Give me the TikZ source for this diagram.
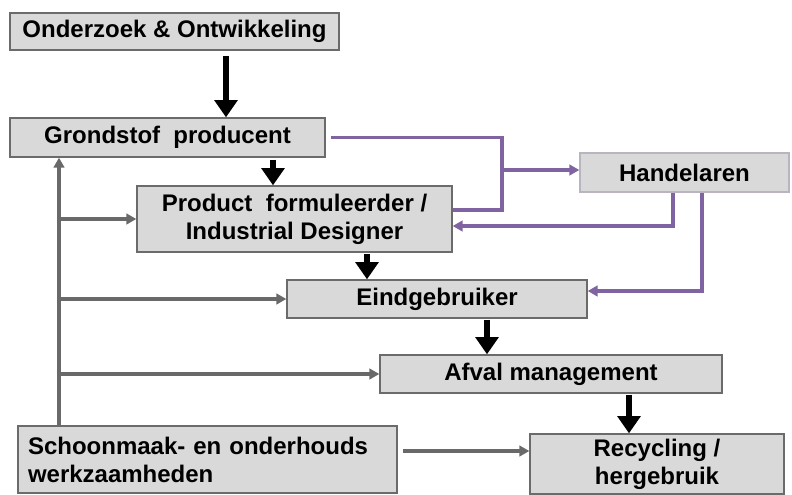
\documentclass[tikz,border=0pt]{standalone}
\usepackage{fontspec}
\setmainfont{Liberation Sans}
\usepackage{tikz}
\usetikzlibrary{arrows.meta,positioning,calc}

\definecolor{boxgray}{HTML}{D9D9D9}
\definecolor{linegray}{HTML}{696969}
\definecolor{tradepurple}{HTML}{8064A2}

\begin{document}
\begin{tikzpicture}[x=0.75pt, y=-0.75pt,
    actor/.style={draw=black!58, fill=boxgray, line width=1pt, inner sep=0pt,
      font=\fontsize{18}{21}\selectfont\bfseries, align=center},
    chain/.style={line width=5pt, -{Triangle[width=17pt,length=13pt]}},
    feed/.style={linegray, line width=2.7pt, -{Triangle[width=8pt,length=7.5pt]}},
    trade/.style={tradepurple, line width=2.6pt}]
  \useasboundingbox (0,0) rectangle (792,494);

  \node[actor, minimum width=246.75pt, minimum height=27.75pt] (onderzoek) at (174.5,31.5) {Onderzoek \& Ontwikkeling};
  \node[actor, minimum width=236.25pt, minimum height=29.25pt] (grond) at (167.5,137.5) {Grondstof\ \ producent};
  \node[actor, minimum width=236.25pt, minimum height=49.5pt] (product) at (294.5,219) {Product\ \ formuleerder /\\Industrial Designer};
  \node[actor, draw=tradepurple!35!gray!55, minimum width=156.75pt, minimum height=29.25pt] (handel) at (684.5,172.5) {Handelaren};
  \node[actor, minimum width=225pt, minimum height=28.5pt] (eind) at (437,299) {Eindgebruiker};
  \node[actor, minimum width=256.5pt, minimum height=28.5pt] (afval) at (551,374) {Afval management};
  \node[actor, align=left, inner xsep=7.5pt, text width=269.25pt, minimum height=50.25pt] (schoon) at (207.5,459.5) {Schoonmaak- en onderhouds\\werkzaamheden};
  \node[actor, minimum width=190.5pt, minimum height=45pt] (recyc) at (657,464) {Recycling /\\hergebruik};

  % main chain
  \draw[chain] ($(onderzoek.south)+(51.5,5)$) -- ($(grond.north)+(58.5,0)$);
  \draw[chain] ($(grond.south)+(105.5,2)$) -- ($(product.north)+(-21.5,0)$);
  \draw[chain] ($(product.south)+(72.5,1)$) -- ($(eind.north)+(-70,0)$);
  \draw[chain] ($(eind.south)+(50,1)$) -- ($(afval.north)+(-64,0)$);
  \draw[chain] ($(afval.south)+(78,1)$) -- ($(recyc.north)+(-28,0)$);

  % cleaning and maintenance feedback
  \coordinate (trunk) at ($(schoon.north)+(-148.5,0)$);
  \draw[feed] (trunk) -- ($(grond.south)+(-108.5,0)$);
  \draw[feed] (trunk |- product.west) -- (product.west);
  \draw[feed] (trunk |- eind.west) -- (eind.west);
  \draw[feed] (trunk |- afval.west) -- (afval.west);
  \draw[feed] ($(schoon.east)+(5,-8.5)$) -- ($(recyc.west)+(0,-13)$);

  % traders
  \coordinate (split) at (502,170);
  \draw[trade] ($(grond.east)+(5,0)$) -| (split) |- ($(product.east)+(0,-9)$);
  \draw[trade, -{Triangle[width=8pt,length=7.5pt]}] (split) -- (split -| handel.west);
  \draw[trade, -{Triangle[width=8pt,length=7.5pt]}] ($(handel.south)+(-11.5,0)$) |- ($(product.east)+(0,7)$);
  \draw[trade, -{Triangle[width=8pt,length=7.5pt]}] ($(handel.south)+(17.5,0)$) |- ($(eind.east)+(0,-8)$);
\end{tikzpicture}
\end{document}
